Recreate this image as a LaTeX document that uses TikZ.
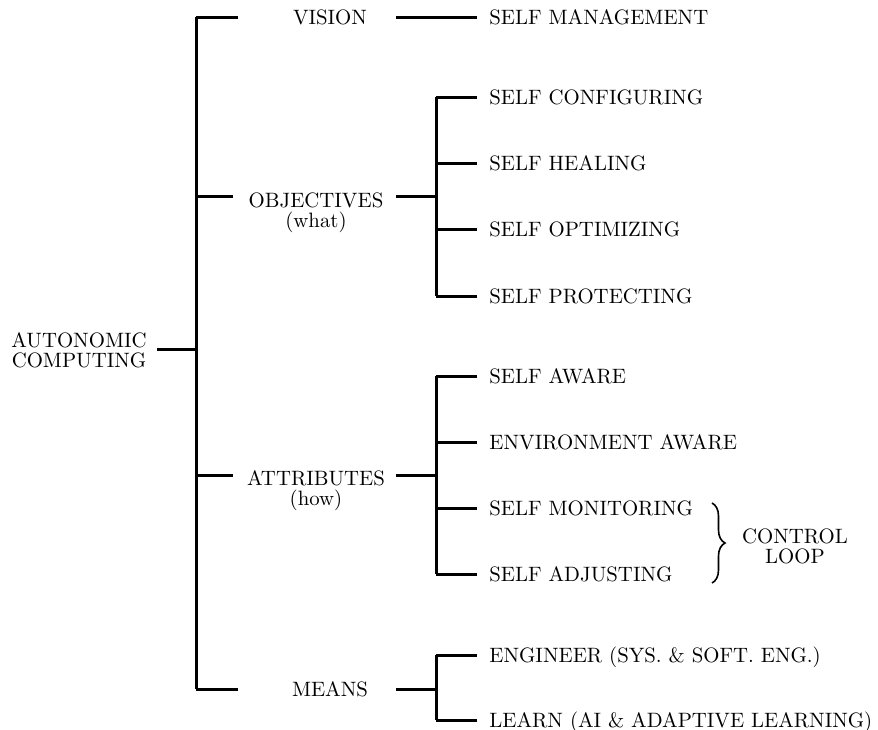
\documentclass[tikz,border=0pt]{standalone}
\usetikzlibrary{decorations.pathreplacing}
\begin{document}
\begin{tikzpicture}[x=0.5pt,y=-0.5pt,
  every node/.style={font=\fontsize{10.4}{12}\selectfont},
  branch/.style={line width=1.5pt},
  leaf/.style={anchor=west,inner xsep=6pt,inner ysep=0pt,text height=7.1pt,text depth=0pt},
  head/.style={inner sep=0pt,text height=7.1pt,text depth=0pt},
  multi/.style={anchor=north,align=center,inner ysep=0pt,inner xsep=5pt,font=\fontsize{10.4}{10}\selectfont},
  loopbrace/.style={decorate,decoration={brace,amplitude=6.5pt},line width=0.8pt}]
\useasboundingbox (0,0) rectangle (878,729);

% root
\node[multi] (root) at (79,332) {AUTONOMIC\\COMPUTING};

% trunk junctions
\coordinate (t0) at (196,349);
\coordinate (t1) at (196,17);
\coordinate (t2) at (196,196);
\coordinate (t3) at (196,475);
\coordinate (t4) at (196,689);

% first level
\node[head] (vis) at (330,17) {VISION};
\node[multi,inner xsep=0pt] (obj) at (316,192) {OBJECTIVES\\(what)};
\node[multi,inner xsep=0pt] (att) at (316,470) {ATTRIBUTES\\(how)};
\node[head] (mea) at (330,689) {MEANS};

% line ends beside the first level labels
\coordinate (visL) at (238,17);  \coordinate (visR) at (396,17);
\coordinate (objL) at (233,196); \coordinate (objR) at (396,196);
\coordinate (attL) at (233,475); \coordinate (attR) at (396,475);
\coordinate (meaL) at (238,689); \coordinate (meaR) at (396,689);

% second level junctions
\coordinate (o) at (436,196);
\coordinate (a) at (436,475);
\coordinate (m) at (436,689);

% leaves
\node[leaf] (sm) at (477,17) {SELF MANAGEMENT};

\node[leaf] (sc) at (477,97)  {SELF CONFIGURING};
\node[leaf] (sh) at (477,163) {SELF HEALING};
\node[leaf] (so) at (477,229) {SELF OPTIMIZING};
\node[leaf] (sp) at (477,296) {SELF PROTECTING};

\node[leaf] (sa) at (477,376) {SELF AWARE};
\node[leaf] (ea) at (477,442) {ENVIRONMENT AWARE};
\node[leaf] (smo) at (477,508) {SELF MONITORING};
\node[leaf] (sad) at (477,574) {SELF ADJUSTING};

\node[leaf] (en) at (477,655) {ENGINEER (SYS. \& SOFT. ENG.)};
\node[leaf] (le) at (477,720) {LEARN (AI \& ADAPTIVE LEARNING)};

% control loop brace and label
\coordinate (bTop) at (712,503);
\coordinate (bBot) at (712,583);
\draw[loopbrace] (bTop) -- (bBot);
\node[multi,inner xsep=0pt] (cl) at (795,528) {CONTROL\\LOOP};

% connectors
\draw[branch] (t1) -- (t4);
\draw[branch] (root.east |- t0) -- (t0);
\draw[branch] (t1) -- (visL);
\draw[branch] (t2) -- (objL);
\draw[branch] (t3) -- (attL);
\draw[branch] (t4) -- (meaL);

\draw[branch] (visR) -- (sm.west);
\draw[branch] (objR) -- (o);
\draw[branch] (attR) -- (a);
\draw[branch] (meaR) -- (m);

\draw[branch] (sc.west -| o) -- (sp.west -| o);
\foreach \n in {sc,sh,so,sp} \draw[branch] (\n.west -| o) -- (\n.west);

\draw[branch] (sa.west -| a) -- (sad.west -| a);
\foreach \n in {sa,ea,smo,sad} \draw[branch] (\n.west -| a) -- (\n.west);

\draw[branch] (en.west -| m) -- (le.west -| m);
\foreach \n in {en,le} \draw[branch] (\n.west -| m) -- (\n.west);
\end{tikzpicture}
\end{document}
